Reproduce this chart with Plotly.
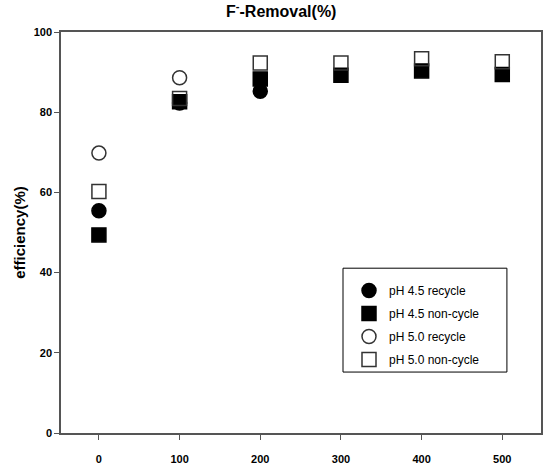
import plotly.graph_objects as go

# Data
x_45_rec = [0, 100, 200]
y_45_rec = [55.4, 82.3, 85.2]
x_45_non = [0, 100, 200, 300, 400, 500]
y_45_non = [49.4, 82.6, 88.3, 89.2, 90.3, 89.4]
x_50_rec = [0, 100]
y_50_rec = [69.8, 88.6]
x_50_non = [0, 100, 200, 300, 400, 500]
y_50_non = [60.2, 83.4, 92.3, 92.3, 93.3, 92.6]

x_ticks = [0, 100, 200, 300, 400, 500]
y_ticks = [0, 20, 40, 60, 80, 100]

FONT = "Liberation Sans, Arial, sans-serif"
edge = "#333333"

fig = go.Figure()
series = [
    ("pH 4.5 recycle", x_45_rec, y_45_rec, "circle", "black"),
    ("pH 4.5 non-cycle", x_45_non, y_45_non, "square", "black"),
    ("pH 5.0 recycle", x_50_rec, y_50_rec, "circle-open", edge),
    ("pH 5.0 non-cycle", x_50_non, y_50_non, "square-open", edge),
]
for i, (name, xs, ys, sym, col) in enumerate(series):
    fig.add_trace(go.Scatter(
        x=xs, y=ys, mode="markers", name=name, legendgroup=str(i),
        marker=dict(symbol=sym, size=14, color=col,
                    line=dict(color=col, width=1.5)),
    ))

axis_common = dict(showline=True, linecolor="#555555", linewidth=1.5, mirror=True,
                   ticks="outside", ticklen=5, tickcolor="#555555", showgrid=False,
                   zeroline=False, automargin=False,
                   tickfont=dict(family=FONT, size=11, color="black"))

fig.update_layout(
    width=558, height=471,
    margin=dict(l=61, r=17, t=32, b=38),
    plot_bgcolor="white", paper_bgcolor="white",
    title=dict(text="<b>F<sup>-</sup>-Removal(%)</b>", x=0.504, xanchor="center",
               y=1 - 11 / 471, yanchor="middle",
               font=dict(family=FONT, size=16, color="black")),
    xaxis=dict(range=[-47, 548], tickvals=x_ticks, ticklabelstandoff=10,
               ticktext=[f"<b>{v}</b>" for v in x_ticks], **axis_common),
    yaxis=dict(range=[0, 100], tickvals=y_ticks, ticklabelstandoff=0,
               ticktext=[f"<b>{v}</b>" for v in y_ticks],
               title=dict(text="<b>efficiency(%)</b>", standoff=4,
                          font=dict(family=FONT, size=15, color="black")),
               **axis_common),
    legend=dict(x=0.6, y=0.3915, xanchor="left", yanchor="top",
                borderwidth=0, bgcolor="rgba(0,0,0,0)",
                font=dict(family=FONT, size=12, color="black"),
                traceorder="grouped", tracegroupgap=4),
    showlegend=True,
    shapes=[dict(type="rect", xref="paper", yref="paper",
                 x0=0.5875, x1=0.929, y0=0.152, y1=0.411,
                 line=dict(color="black", width=1), fillcolor="white", layer="below")],
)

fig.write_html("out.html")
